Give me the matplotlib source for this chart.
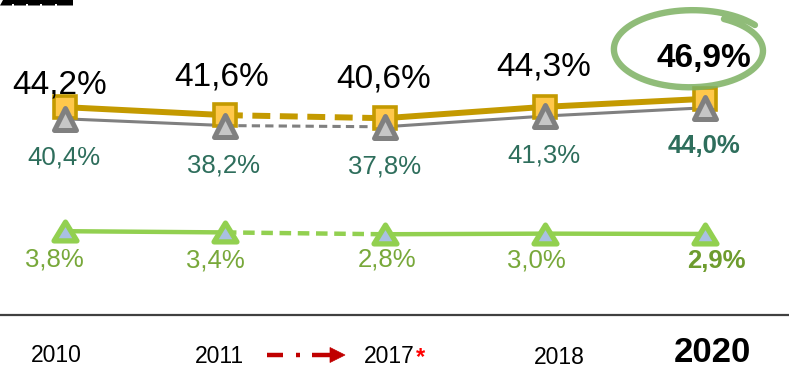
import numpy as np
import matplotlib
matplotlib.use("Agg")
import matplotlib.pyplot as plt
from matplotlib.patches import Polygon
from matplotlib.markers import MarkerStyle
from matplotlib.path import Path

plt.rcParams['font.family'] = ['Liberation Sans', 'DejaVu Sans']

# ---- data -------------------------------------------------------------
years = ["2010", "2011", "2017", "2018", "2020"]
total_share = [44.2, 41.6, 40.6, 44.3, 46.9]      # gold squares
main_share = [40.4, 38.2, 37.8, 41.3, 44.0]       # grey triangles
secondary_share = [3.8, 3.4, 2.8, 3.0, 2.9]       # green triangles


def pct(v):
    return f"{v:.1f}%".replace(".", ",")


# ---- figure -------------------------------------------------------------
W, H = 789, 369
fig = plt.figure(figsize=(W / 100, H / 100), dpi=100)
ax = fig.add_axes([0, 54 / H, 1, 315 / H])
ax.set_xlim(-0.4065, 4.528)
ax.set_ylim(-23.5, 79.1)
for s in ("top", "left", "right"):
    ax.spines[s].set_visible(False)
ax.spines["bottom"].set_color("#404040")
ax.spines["bottom"].set_linewidth(1.6)
ax.set_xticks([])
ax.set_yticks([])
ax.patch.set_alpha(0)

x = np.arange(len(years))

GOLD = "#C49A00"
GOLD_FACE = "#FFC84B"
GREY = "#808080"
GREY_FACE = "#C6C6C6"
GREEN = "#92D050"
GREEN_FACE = "#A9C0E2"
TEAL = "#2E6E5C"
GREEN_TXT = "#78A83A"

tri_round = MarkerStyle("^", joinstyle="round")
flat_tri = Path([(0, 0.82), (-1, -0.82), (1, -0.82), (0, 0.82)],
                [Path.MOVETO, Path.LINETO, Path.LINETO, Path.CLOSEPOLY])
flat_tri_round = MarkerStyle(flat_tri, joinstyle="round")
square_m = MarkerStyle("s", joinstyle="miter")


def draw_series(vals, color, lw, dash, z):
    # solid 2010-2011, dashed gap 2011-2017, solid 2017-2020
    ax.plot(x[:2], vals[:2], color=color, lw=lw, solid_capstyle="butt", zorder=z)
    ax.plot(x[1:3], vals[1:3], color=color, lw=lw, ls=(0, dash),
            dash_capstyle="butt", zorder=z)
    ax.plot(x[2:], vals[2:], color=color, lw=lw, solid_capstyle="butt", zorder=z)


draw_series(secondary_share, GREEN, 3.2, (2.6, 1.5), 2)
draw_series(total_share, GOLD, 4.3, (3.0, 1.6), 2)
draw_series(main_share, GREY, 2.2, (2.7, 1.7), 3)

ax.plot(x, total_share, ls="none", marker=square_m, ms=16, mfc=GOLD_FACE,
        mec=GOLD, mew=2.6, zorder=4)
ax.plot(x, main_share, ls="none", marker=tri_round, ms=15.5, mfc=GREY_FACE,
        mec=GREY, mew=3.6, zorder=5)
ax.plot(x, secondary_share, ls="none", marker=flat_tri_round, ms=16.5,
        mfc=GREEN_FACE, mec=GREEN, mew=3.8, zorder=5)

PX = 0.72  # points per pixel at 100 dpi
CAP = 0.716  # cap height of the font, in em


def value_labels(vals, offsets, size, color_for, bold_last=True):
    for i, v in enumerate(vals):
        last = i == len(vals) - 1
        dx, dy = offsets[i]
        # place baseline so that the digits are centred on the offset
        dy_base = dy - CAP * size / 2 / PX
        ax.annotate(pct(v), (x[i], v), xytext=(dx * PX, dy_base * PX),
                    textcoords="offset points", ha="center", va="baseline",
                    fontsize=size,
                    fontweight="bold" if (last and bold_last) else "normal",
                    color=color_for(last), zorder=6)


# label offsets in pixels (right, up) from each point
top_off = [(-5, 26), (-3.5, 41.7), (-1, 42.3), (-1, 42.9), (-0.5, 43.4)]
mid_off = [(-1.5, -36), (-1.5, -37.4), (-0.5, -37.6), (-1, -37), (-0.5, -36.2)]
low_off = [(-11, -26), (-9.5, -25.5), (2.5, -23.2), (-8.5, -24.8), (11.5, -24.5)]

value_labels(total_share, top_off, 24, lambda last: "black")
value_labels(main_share, mid_off, 18.5, lambda last: TEAL)
value_labels(secondary_share, low_off, 18.5,
             lambda last: "#6E9C2E" if last else GREEN_TXT)

# ---- overlay in pixel coordinates for decorations and year captions ----
ov = fig.add_axes([0, 0, 1, 1])
ov.set_xlim(0, W)
ov.set_ylim(H, 0)
ov.axis("off")
ov.patch.set_alpha(0)

# year captions
ov.text(56, 362, years[0], ha="center", va="baseline", fontsize=16.5)
ov.text(219, 363, years[1], ha="center", va="baseline", fontsize=16.5)
ov.text(389, 363, years[2], ha="center", va="baseline", fontsize=16.5)
ov.text(421, 364, "*", ha="center", va="baseline", fontsize=17,
        color="#FF0000", fontweight="bold")
ov.text(559, 364, years[3], ha="center", va="baseline", fontsize=16.5)
ov.text(712, 361.5, years[4], ha="center", va="baseline", fontsize=25,
        fontweight="bold")

# red dash-dot arrow between 2011 and 2017
RED = "#C00000"
for x0, x1 in [(267, 283), (296.5, 300.5), (312, 332)]:
    ov.plot([x0, x1], [355, 355], color=RED, lw=3.2, solid_capstyle="butt")
ov.add_patch(Polygon([(330, 347.5), (345, 355), (330, 362.5)], closed=True,
                     facecolor=RED, edgecolor=RED, lw=0.5))

# hand-drawn loop around the latest value
t = np.radians(np.linspace(62, -322, 400))
r = np.linspace(0.9, 1.04, t.size)
cx, cy, a, b = 691, 50, 78, 39
ov.plot(cx + a * r * np.cos(t), cy - b * r * np.sin(t), color="#7DB162",
        lw=4.6, alpha=0.85, solid_capstyle="round")

# clipped heading remnant at the top edge
ov.add_patch(Polygon([(0, 5.5), (3, 0), (73, 0), (73, 5.5)], closed=True,
                     facecolor="black", edgecolor="none"))
for gx in (12, 26, 40, 55):
    ov.add_patch(Polygon([(gx, 5.5), (gx, 3.5), (gx + 2, 3.5), (gx + 2, 5.5)],
                         closed=True, facecolor="white", edgecolor="none"))

fig.savefig("out.png", dpi=100, facecolor="white")
